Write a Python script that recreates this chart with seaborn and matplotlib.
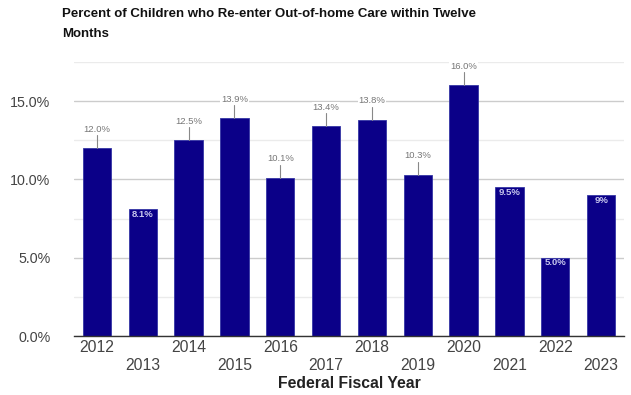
import matplotlib
matplotlib.use("Agg")
import matplotlib.pyplot as plt
import seaborn as sns
import pandas as pd
from matplotlib.ticker import FuncFormatter, MultipleLocator

years = ["2012", "2013", "2014", "2015", "2016", "2017", "2018", "2019", "2020", "2021", "2022", "2023"]
values = [12.0, 8.1, 12.5, 13.9, 10.1, 13.4, 13.8, 10.3, 16.0, 9.5, 5.0, 9.0]
value_labels = ["12.0%", "8.1%", "12.5%", "13.9%", "10.1%", "13.4%", "13.8%", "10.3%", "16.0%", "9.5%", "5.0%", "9%"]
label_inside = [False, True, False, False, False, False, False, False, False, True, True, True]

title = "Percent of Children who Re-enter Out-of-home Care within Twelve\nMonths"
xlabel = "Federal Fiscal Year"

sns.set_theme(style="white")
plt.rcParams["font.family"] = ["Liberation Sans", "DejaVu Sans"]

df = pd.DataFrame({"year": years, "value": values})

W, H = 631, 395
fig = plt.figure(figsize=(W / 100, H / 100), dpi=100)
left, right, top, bottom = 74, 624, 62, 336
ax = fig.add_axes([left / W, (H - bottom) / H, (right - left) / W, (bottom - top) / H])

bar_color = "#0b0088"
sns.barplot(data=df, x="year", y="value", color=bar_color, width=0.62, ax=ax,
            saturation=1, edgecolor="#3535a5", linewidth=0.6, zorder=3)

ax.set_xlim(-0.5, len(years) - 0.5)
ax.set_ylim(0, 17.5)

ax.yaxis.set_major_locator(MultipleLocator(5))
ax.yaxis.set_minor_locator(MultipleLocator(2.5))
ax.yaxis.set_major_formatter(FuncFormatter(lambda v, p: f"{v:.1f}%"))
ax.grid(axis="y", which="major", color="#cccccc", linewidth=1, zorder=0)
ax.grid(axis="y", which="minor", color="#ebebeb", linewidth=1, zorder=0)
ax.grid(axis="x", visible=False)
ax.set_axisbelow(True)

for s in ["top", "right", "left"]:
    ax.spines[s].set_visible(False)
ax.spines["bottom"].set_color("#333333")
ax.spines["bottom"].set_linewidth(1)
ax.spines["bottom"].set_zorder(4)

even = list(range(0, len(years), 2))
odd = list(range(1, len(years), 2))
ax.set_xticks(even, [years[i] for i in even])
ax.set_xticks(odd, [years[i] for i in odd], minor=True)
ax.tick_params(axis="x", which="major", length=0, pad=3, labelsize=11.3, labelcolor="#444444")
ax.tick_params(axis="x", which="minor", length=0, pad=16, labelsize=11.3, labelcolor="#444444")
ax.tick_params(axis="y", which="both", length=0, pad=17, labelsize=10.3, labelcolor="#444444")

ax.set_xlabel("")
ax.set_ylabel("")
fig.text((left + right) / 2 / W, 1 - 383 / H, xlabel, ha="center", va="center",
         fontsize=11.3, fontweight="bold", color="#222222")

px = 17.5 / (bottom - top)  # data units per pixel
for i, (v, lab, inside) in enumerate(zip(values, value_labels, label_inside)):
    if inside:
        ax.text(i, v - 5 * px, lab, ha="center", va="center", fontsize=6.8,
                fontweight="bold", color="#c8c8ee", zorder=5)
    else:
        ax.plot([i, i], [v, v + 13 * px], color="#888888", linewidth=0.8, zorder=4)
        ax.text(i, v + 19 * px, lab, ha="center", va="center", fontsize=6.8,
                color="#777777", zorder=5,
                bbox=dict(boxstyle="square,pad=0.1", facecolor="white", edgecolor="none"))

fig.text(62 / W, 1 - 8 / H, title, ha="left", va="top", fontsize=9.5,
         fontweight="bold", color="#111111", linespacing=1.85)

fig.savefig("out.png", dpi=100)
